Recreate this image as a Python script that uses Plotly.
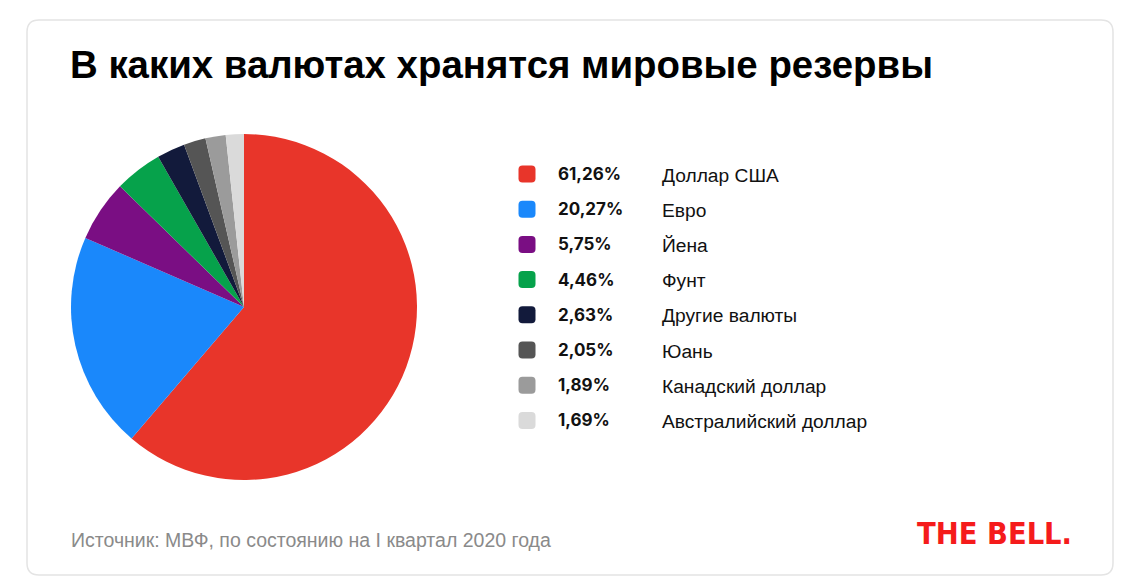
import plotly.graph_objects as go

W, H = 1141, 586

labels = ["Доллар США", "Евро", "Йена", "Фунт", "Другие валюты", "Юань",
          "Канадский доллар", "Австралийский доллар"]
values = [61.26, 20.27, 5.75, 4.46, 2.63, 2.05, 1.89, 1.69]
colors = ["#E8352A", "#1A88FB", "#7A0E83", "#06A24B", "#121A3B", "#555555",
          "#9B9B9B", "#DADADA"]

title_text = "В каких валютах хранятся мировые резервы"
source_text = "Источник: МВФ, по состоянию на I квартал 2020 года"
logo_text = "THE BELL."


def px(x):
    return x / W


def py(y):
    return 1 - y / H


def rounded_rect(x0, y0, x1, y1, r):
    # pixel coords (y down) -> paper coords path
    X0, X1 = px(x0), px(x1)
    Y0, Y1 = py(y0), py(y1)
    rx, ry = r / W, r / H
    return (f"M {X0+rx},{Y0} L {X1-rx},{Y0} Q {X1},{Y0} {X1},{Y0-ry} "
            f"L {X1},{Y1+ry} Q {X1},{Y1} {X1-rx},{Y1} "
            f"L {X0+rx},{Y1} Q {X0},{Y1} {X0},{Y1+ry} "
            f"L {X0},{Y0-ry} Q {X0},{Y0} {X0+rx},{Y0} Z")


cx, cy, R = 244, 307, 173

fig = go.Figure()
fig.add_trace(go.Pie(
    labels=labels, values=values, sort=False, direction="clockwise", rotation=0,
    marker=dict(colors=colors, line=dict(width=0)),
    textinfo="none", showlegend=False, hole=0,
    domain=dict(x=[px(cx - R), px(cx + R)], y=[py(cy + R), py(cy - R)]),
))

shapes = []
annotations = []

# card border
shapes.append(dict(type="path", xref="paper", yref="paper",
                   path=rounded_rect(27, 20, 1113, 575, 12),
                   line=dict(color="#E4E4E4", width=1.5), fillcolor="rgba(0,0,0,0)",
                   layer="below"))

# legend
y0 = 174
step = 35.2
for i, (lab, val, col) in enumerate(zip(labels, values, colors)):
    yc = y0 + i * step
    shapes.append(dict(type="path", xref="paper", yref="paper",
                       path=rounded_rect(518.5, yc - 8.5, 535.5, yc + 8.5, 4),
                       fillcolor=col, line=dict(width=0)))
    annotations.append(dict(
        x=px(556), y=py(yc), xref="paper", yref="paper", xanchor="left",
        yanchor="middle", showarrow=False,
        text="<b>" + f"{val:.2f}".replace(".", ",") + "%</b>",
        font=dict(family="Inter, Liberation Sans, Arial", size=17, color="#111111")))
    annotations.append(dict(
        x=px(660), y=py(yc + 1), xref="paper", yref="paper", xanchor="left",
        yanchor="middle", showarrow=False, text=lab,
        font=dict(family="Liberation Sans, Arial", size=19.2, color="#111111")))

# title
annotations.append(dict(
    x=px(68), y=py(65), xref="paper", yref="paper", xanchor="left", yanchor="middle",
    showarrow=False, text="<b>" + title_text + "</b>",
    font=dict(family="Liberation Sans, Arial", size=38.4, color="#000000")))

# source
annotations.append(dict(
    x=px(69), y=py(540), xref="paper", yref="paper", xanchor="left", yanchor="middle",
    showarrow=False, text=source_text,
    font=dict(family="Liberation Sans, Arial", size=19.5, color="#8A8A8A")))

# logo
annotations.append(dict(
    x=px(1074), y=py(533), xref="paper", yref="paper", xanchor="right",
    yanchor="middle", showarrow=False, text="<b>" + logo_text + "</b>",
    font=dict(family="Liberation Sans Narrow, DejaVu Sans Condensed, Arial", size=30.5,
              color="#F51B1B")))

fig.update_layout(
    width=W, height=H, margin=dict(l=0, r=0, t=0, b=0),
    paper_bgcolor="white", plot_bgcolor="white",
    shapes=shapes, annotations=annotations,
)

fig.write_html("out.html", config={"displayModeBar": False})
